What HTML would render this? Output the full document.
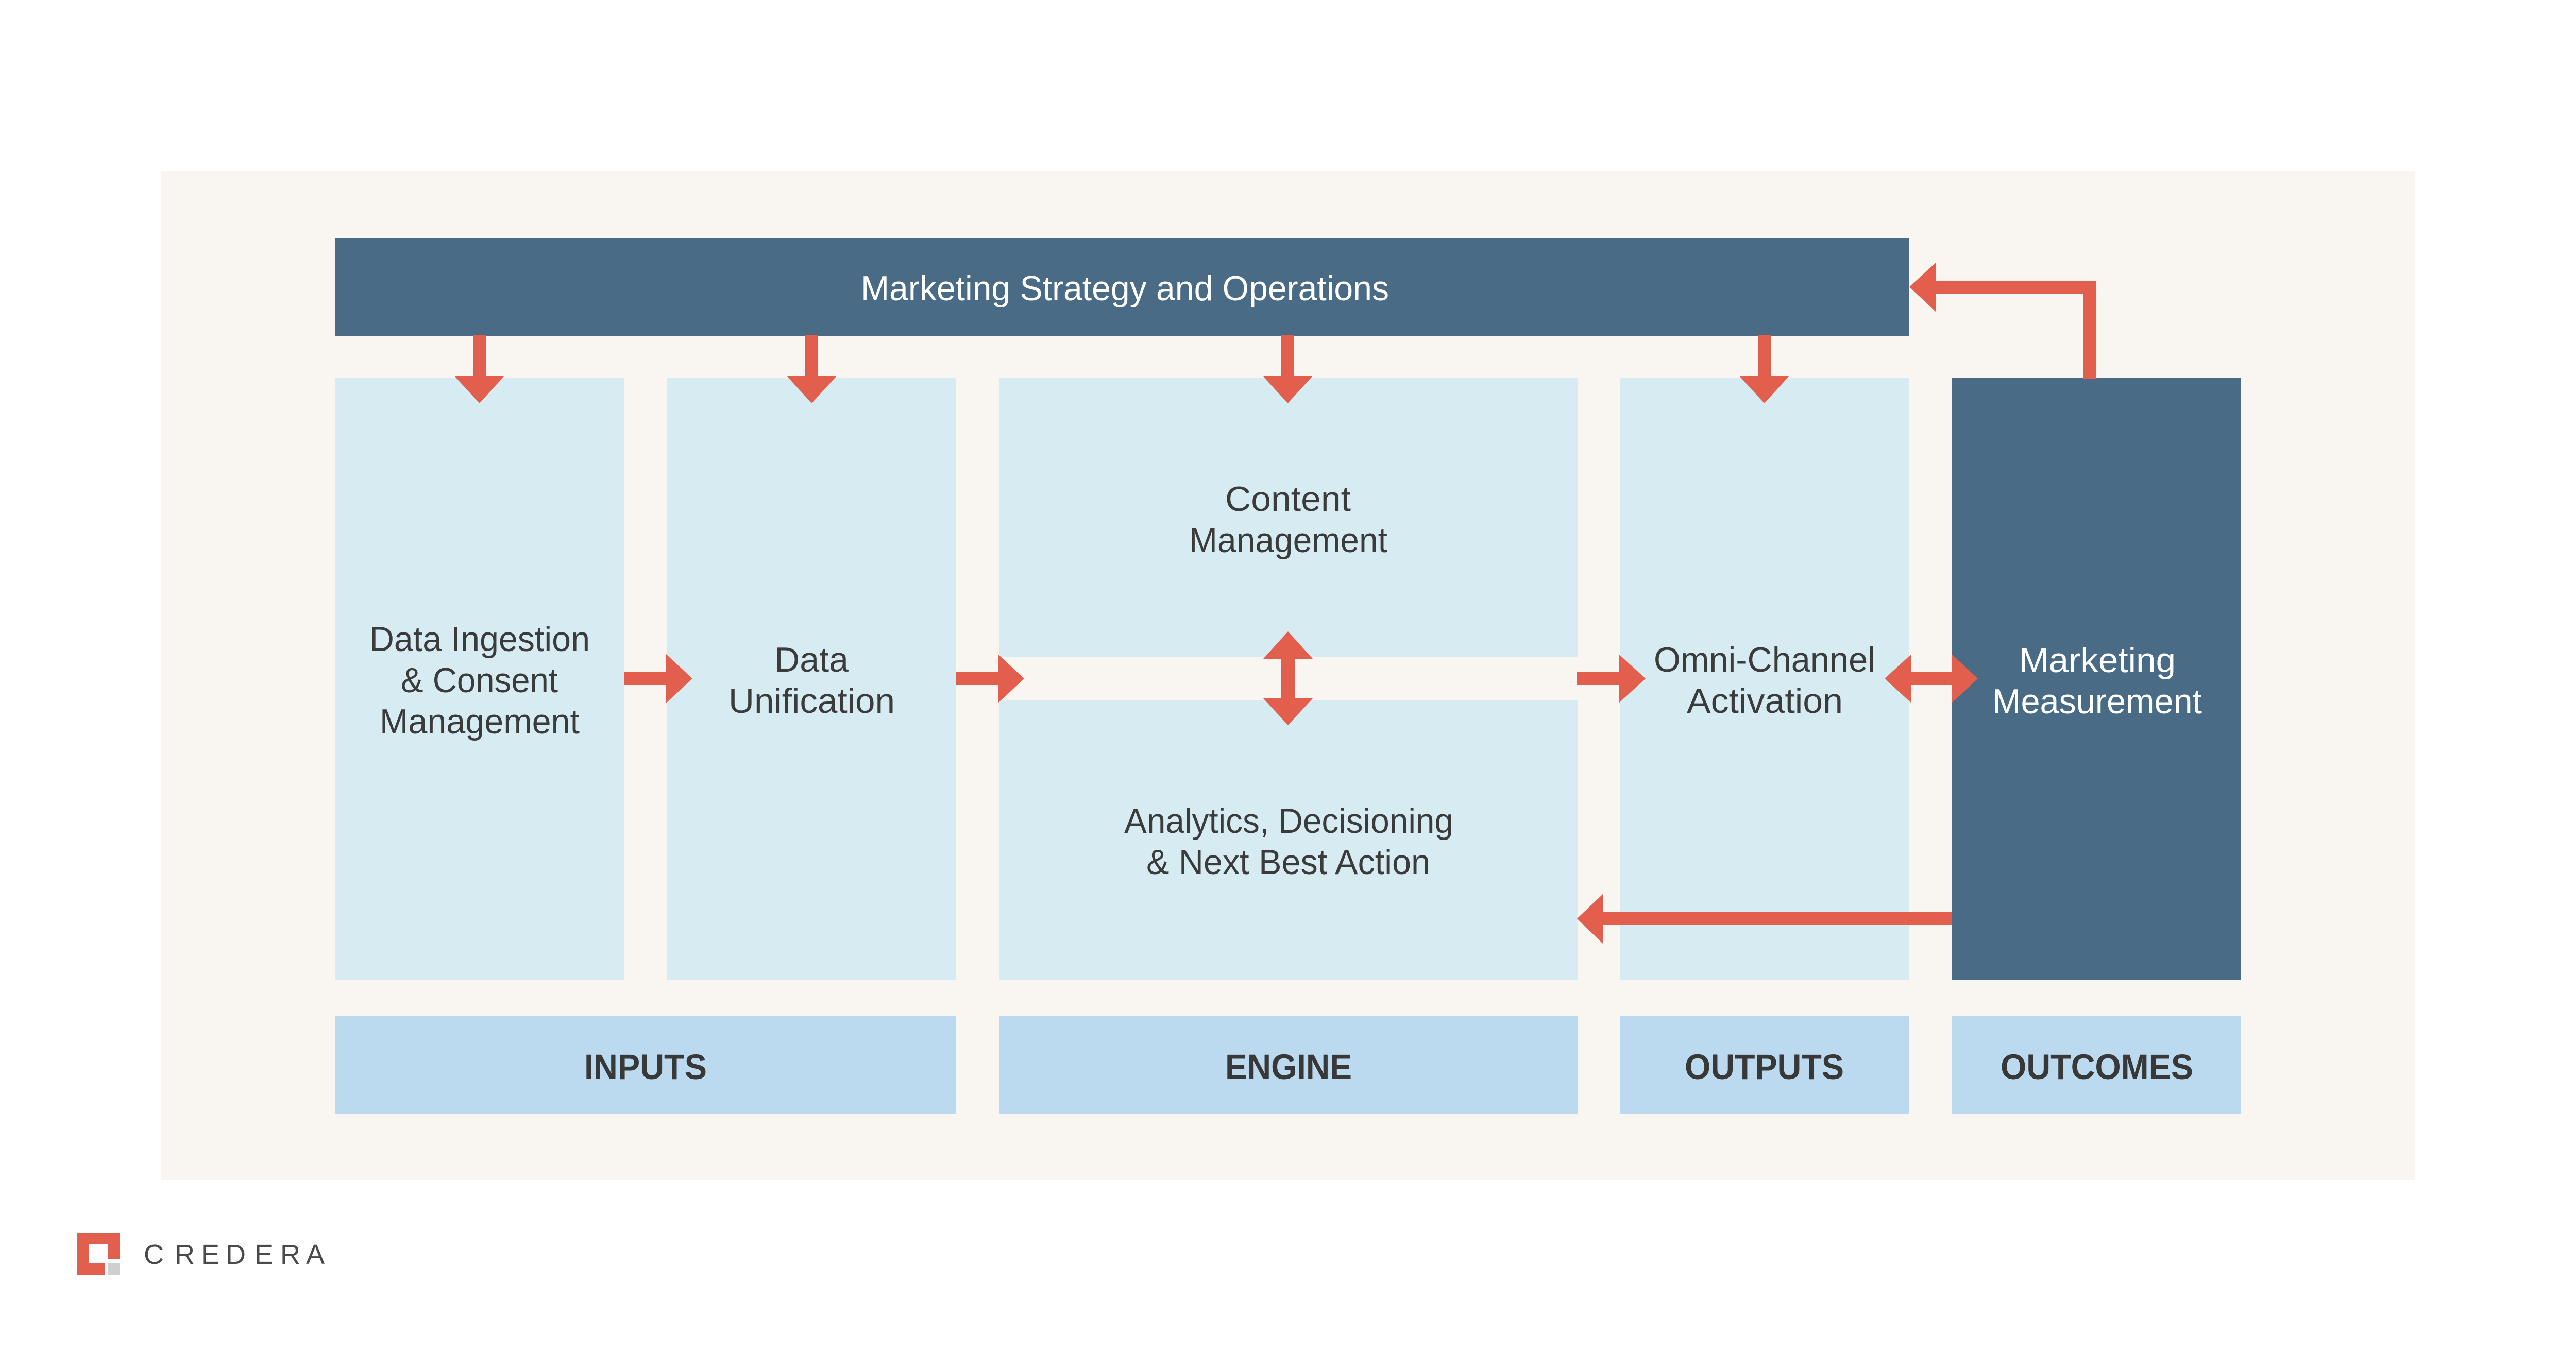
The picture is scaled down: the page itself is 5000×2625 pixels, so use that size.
<!DOCTYPE html>
<html lang="en">
<head>
<meta charset="utf-8">
<title>Marketing Architecture Diagram</title>
<style>
html,body{margin:0;padding:0;background:#fff;width:5000px;height:2625px;overflow:hidden}
svg{display:block}
text{font-family:"Liberation Sans",Arial,sans-serif;font-size:68px;fill:#3b3b3b}
.w{fill:#fff}
.b{font-weight:700;font-size:69px;fill:#383838}
.a{fill:#e35f4d}
</style>
</head>
<body>
<svg xmlns="http://www.w3.org/2000/svg" width="5000" height="2625" viewBox="0 0 5000 2625">
<rect width="5000" height="2625" fill="#fff"/>
<rect x="312" y="332" width="4376" height="1960" fill="#f9f6f1"/>
<rect x="650" y="463" width="3056" height="189" fill="#4a6b86"/>
<g fill="#d7ebf2">
<rect x="650" y="734" width="562" height="1168"/>
<rect x="1294" y="734" width="562" height="1168"/>
<rect x="1939" y="734" width="1123" height="542"/>
<rect x="1939" y="1359" width="1123" height="543"/>
<rect x="3144" y="734" width="562" height="1168"/>
</g>
<rect x="3788" y="734" width="562" height="1168" fill="#4a6b86"/>
<g fill="#bbdaef">
<rect x="650" y="1973" width="1206" height="189"/>
<rect x="1939" y="1973" width="1123" height="189"/>
<rect x="3144" y="1973" width="562" height="189"/>
<rect x="3788" y="1973" width="562" height="189"/>
</g>
<g class="a">
<polygon points="918,651 943,651 943,731 978,731 930.5,783 883,731 918,731"/>
<polygon points="1563,651 1588,651 1588,731 1623,731 1575.5,783 1528,731 1563,731"/>
<polygon points="2487,651 2512,651 2512,731 2547,731 2499.5,783 2452,731 2487,731"/>
<polygon points="3412,651 3437,651 3437,731 3472,731 3424.5,783 3377,731 3412,731"/>
<polygon points="3706,557 3757,510 3757,545 4069,545 4069,735 4044,735 4044,570 3757,570 3757,605"/>
<polygon points="1211,1305 1293,1305 1293,1270 1344,1317.5 1293,1365 1293,1330 1211,1330"/>
<polygon points="1855,1305 1937,1305 1937,1270 1988,1317.5 1937,1365 1937,1330 1855,1330"/>
<polygon points="3061,1305 3142,1305 3142,1270 3194,1317.5 3142,1365 3142,1330 3061,1330"/>
<polygon points="3658,1317.5 3710,1270 3710,1305 3788,1305 3788,1270 3839,1317.5 3788,1365 3788,1330 3710,1330 3710,1365"/>
<polygon points="2500,1226 2548,1279 2513,1279 2513,1356 2548,1356 2500,1408 2452,1356 2487,1356 2487,1279 2452,1279"/>
<polygon points="3061,1783.5 3111,1736 3111,1771 3789,1771 3789,1796 3111,1796 3111,1832"/>
</g>
<text class="w" x="1671" y="583" textLength="1025" lengthAdjust="spacingAndGlyphs">Marketing Strategy and Operations</text>
<text x="717" y="1264" textLength="428" lengthAdjust="spacingAndGlyphs">Data Ingestion</text>
<text x="778" y="1344" textLength="305" lengthAdjust="spacingAndGlyphs">&amp; Consent</text>
<text x="737" y="1424" textLength="388" lengthAdjust="spacingAndGlyphs">Management</text>
<text x="1503" y="1304" textLength="144" lengthAdjust="spacingAndGlyphs">Data</text>
<text x="1414" y="1384" textLength="323" lengthAdjust="spacingAndGlyphs">Unification</text>
<text x="2378" y="992" textLength="244" lengthAdjust="spacingAndGlyphs">Content</text>
<text x="2308" y="1072" textLength="385" lengthAdjust="spacingAndGlyphs">Management</text>
<text x="2182" y="1617" textLength="639" lengthAdjust="spacingAndGlyphs">Analytics, Decisioning</text>
<text x="2225" y="1697" textLength="551" lengthAdjust="spacingAndGlyphs">&amp; Next Best Action</text>
<text x="3210" y="1304" textLength="430" lengthAdjust="spacingAndGlyphs">Omni-Channel</text>
<text x="3274" y="1384" textLength="303" lengthAdjust="spacingAndGlyphs">Activation</text>
<text class="w" x="3919" y="1305" textLength="304" lengthAdjust="spacingAndGlyphs">Marketing</text>
<text class="w" x="3867" y="1385" textLength="407" lengthAdjust="spacingAndGlyphs">Measurement</text>
<text class="b" x="1134" y="2095" textLength="238" lengthAdjust="spacingAndGlyphs">INPUTS</text>
<text class="b" x="2378" y="2095" textLength="246" lengthAdjust="spacingAndGlyphs">ENGINE</text>
<text class="b" x="3270" y="2095" textLength="309" lengthAdjust="spacingAndGlyphs">OUTPUTS</text>
<text class="b" x="3883" y="2095" textLength="374" lengthAdjust="spacingAndGlyphs">OUTCOMES</text>
<polygon points="150,2393 232,2393 232,2445 210,2445 210,2416 172,2416 172,2453 203,2453 203,2475 150,2475" fill="#e35f4d"/>
<rect x="210" y="2453" width="22" height="22" fill="#cfcfcf"/>
<text x="279 339 390 438 494 544 594" y="2454" style="font-size:54px;fill:#4a4a4a">CREDERA</text>
</svg>
</body>
</html>
